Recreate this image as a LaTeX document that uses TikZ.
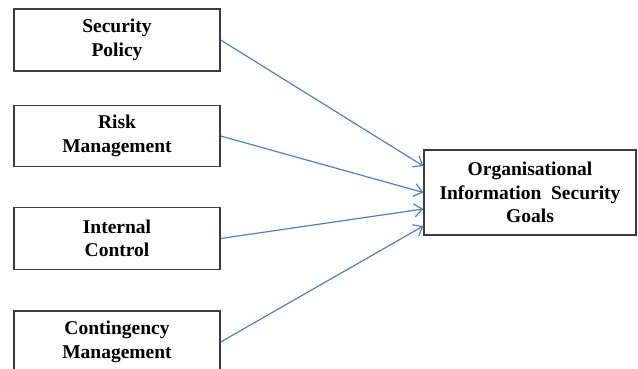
\documentclass[tikz,border=0pt]{standalone}
\usepackage{fontspec}
\setmainfont{Liberation Serif}
\usepackage{tikz}
\usetikzlibrary{arrows.meta, positioning}

\definecolor{linkblue}{RGB}{79,129,189}
\definecolor{boxgray}{RGB}{60,60,60}

\begin{document}
\begin{tikzpicture}[
        x=1pt, y=-1pt,
        % Style for the four factor boxes and the goal box
        factor/.style={draw=boxgray, line width=1.4pt, fill=white, rectangle, minimum width=206pt, minimum height=62pt, inner sep=0pt, align=center, font=\fontsize{19.5}{23.5}\selectfont\bfseries},
        goal/.style={factor, minimum width=212pt, minimum height=85pt},
        arrow/.style={-{Straight Barb[length=8pt, width=13pt]}, draw=linkblue, line width=1.2pt}
    ]
    \useasboundingbox (0,0) rectangle (638,369);

    % Factor nodes
    \node[factor] at (117, 40) (policy) {Security\\Policy};
    \node[factor, minimum height=61pt] at (117, 136) (risk) {Risk\\Management};
    \node[factor] at (117, 238.5) (control) {Internal\\Control};
    \node[factor] at (117, 342) (contingency) {Contingency\\Management};

    % Goal node
    \node[goal] at (530, 192.5) (goals) {Organisational\\Information\ \ Security\\Goals};

    % Drawing arrows from factors to goals
    \draw[arrow] (policy.east) -- ([yshift=26.5pt]goals.west);
    \draw[arrow] (risk.east) -- (goals.west);
    \draw[arrow] (control.east) -- ([yshift=-16.5pt]goals.west);
    \draw[arrow] (contingency.east) -- ([yshift=-33.5pt]goals.west);
\end{tikzpicture}
\end{document}
